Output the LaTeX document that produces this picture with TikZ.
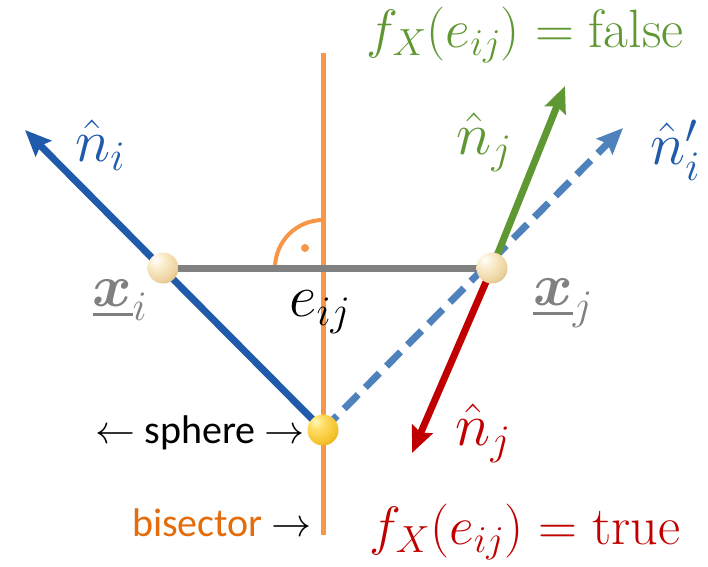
\RequirePackage{fix-cm}
\documentclass[tikz,border=0pt]{standalone}
\usepackage{amsmath,amssymb}
\usepackage{fontspec}
\newfontfamily\calibri{Carlito}
\usetikzlibrary{arrows.meta,shadings}
\definecolor{orng}{HTML}{F79646}
\definecolor{orngtxt}{HTML}{E46C0A}
\definecolor{nblue}{HTML}{1F5BAA}
\definecolor{dblue}{HTML}{4F81BD}
\definecolor{ngreen}{HTML}{5F9732}
\definecolor{nred}{HTML}{C00000}
\definecolor{edgegray}{HTML}{808080}
\pgfdeclareradialshading{beigeball}{\pgfpoint{-12bp}{14bp}}{%
  color(0bp)=(white);
  color(10bp)=(rgb,255:red,252;green,240;blue,212);
  color(30bp)=(rgb,255:red,238;green,212;blue,160);
  color(48bp)=(rgb,255:red,200;green,165;blue,105);
  color(60bp)=(rgb,255:red,150;green,115;blue,65);
  color(100bp)=(rgb,255:red,150;green,115;blue,65)}
\pgfdeclareradialshading{goldball}{\pgfpoint{-12bp}{14bp}}{%
  color(0bp)=(rgb,255:red,255;green,248;blue,190);
  color(10bp)=(rgb,255:red,255;green,225;blue,110);
  color(30bp)=(rgb,255:red,245;green,195;blue,45);
  color(48bp)=(rgb,255:red,210;green,150;blue,20);
  color(60bp)=(rgb,255:red,165;green,110;blue,10);
  color(100bp)=(rgb,255:red,165;green,110;blue,10)}
\begin{document}
\begin{tikzpicture}[x=1pt,y=-1pt,
  vec/.style={line width=7pt,-{Stealth[length=26pt,width=22pt,inset=4pt]}},
  ballnode/.style={circle,inner sep=0pt,minimum size=31pt,shading=#1},
  lbl/.style={font=\fontsize{60}{64}\selectfont,inner sep=0pt},
  big/.style={font=\fontsize{54}{58}\selectfont,inner sep=0pt},
  side/.style={font=\calibri\fontsize{40}{44}\selectfont,inner sep=0pt}]
\useasboundingbox (0,0) rectangle (708,566);
% coordinates
\coordinate (bTop) at (323,53);
\coordinate (bBot) at (323,535);
\coordinate (tipI) at (25,130);
\coordinate (tipIp) at (623,128);
\coordinate (tipG) at (565,86);
\coordinate (tipR) at (412,453);
\coordinate (xic) at (163,268);
\coordinate (xjc) at (492,268);
\coordinate (sc) at (323,430);
% bisector and right angle
\draw[orng,line width=5pt] (bTop) -- (bBot);
\draw[orng,line width=4pt] (275,268) arc[start angle=180,end angle=270,radius=48];
\fill[orng] (305,248) circle[radius=4pt];
% edge
\draw[edgegray,line width=7pt] (xic) -- (xjc);
% vectors
\draw[vec,nblue] (sc) -- (tipI);
\draw[vec,dblue,dash pattern=on 20pt off 10pt] (sc) -- (tipIp);
\draw[vec,ngreen] (xjc) -- (tipG);
\draw[vec,nred] (xjc) -- (tipR);
% spheres
\node[ballnode=beigeball] (xi) at (xic) {};
\node[ballnode=beigeball] (xj) at (xjc) {};
\node[ballnode=goldball] (s) at (sc) {};
% labels
\node[lbl,nblue] (lni) at (100,145) {$\hat{n}_i$};
\node[lbl,ngreen] (lnjg) at (484,142) {$\hat{n}_j$};
\node[lbl,nblue] (lnip) at (675,150) {$\hat{n}_i'$};
\node[lbl,nred] (lnjr) at (483,433) {$\hat{n}_j$};
\node[lbl,edgegray] (lxi) at (120,300) {$\underline{\boldsymbol{x}}_i$};
\node[lbl,edgegray] (lxj) at (563,303) {$\underline{\boldsymbol{x}}_j$};
\node[lbl] (le) at (320,312) {$e_{ij}$};
\node[big,ngreen] (lf) at (525,35) {$f_X(e_{ij})=\mathrm{false}$};
\node[big,nred] (lt) at (525,532) {$f_X(e_{ij})=\mathrm{true}$};
\node[side] (lsph) at (200,433) {$\leftarrow$ sphere $\rightarrow$};
\node[side] (lbis) at (222,523) {\textcolor{orngtxt}{bisector} $\rightarrow$};
\end{tikzpicture}
\end{document}
